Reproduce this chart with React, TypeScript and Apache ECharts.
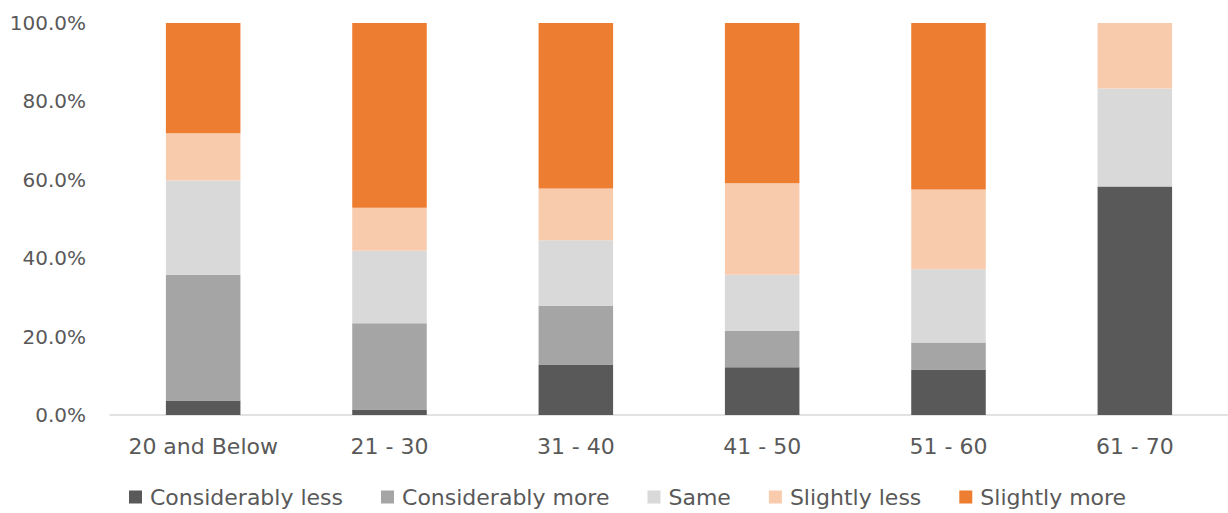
import React, { useEffect, useRef } from "react";
import * as echarts from "echarts";

// Age groups along the x axis
const categories = ["20 and Below", "21 - 30", "31 - 40", "41 - 50", "51 - 60", "61 - 70"];

// Share of respondents per answer, in percent, for each age group
const considerablyLess = [3.7, 1.4, 12.9, 12.2, 11.6, 58.3];
const considerablyMore = [32.1, 22.0, 15.0, 9.2, 6.9, 0];
const same = [24.0, 18.5, 16.7, 14.4, 18.7, 25.0];
const slightlyLess = [12.1, 11.0, 13.2, 23.3, 20.3, 16.7];
const slightlyMore = [28.1, 47.1, 42.2, 40.9, 42.5, 0];

const seriesDefs = [
  { name: "Considerably less", data: considerablyLess, color: "#595959" },
  { name: "Considerably more", data: considerablyMore, color: "#A5A5A5" },
  { name: "Same", data: same, color: "#D9D9D9" },
  { name: "Slightly less", data: slightlyLess, color: "#F8CBAD" },
  { name: "Slightly more", data: slightlyMore, color: "#ED7D31" },
];

const FONT = "'DejaVu Sans', sans-serif";
const TEXT = "#595959";

export default function App() {
  const ref = useRef<HTMLDivElement>(null);

  useEffect(() => {
    if (!ref.current) return;
    const chart = echarts.init(ref.current, undefined, { renderer: "svg" });
    chart.setOption({
      animation: false,
      textStyle: { fontFamily: FONT, color: TEXT },
      grid: { left: 110, right: 0, top: 23, bottom: 98, containLabel: false },
      legend: {
        top: 486,
        left: 129,
        padding: 0,
        itemWidth: 13,
        itemHeight: 13,
        itemGap: 38,
        icon: "rect",
        textStyle: { fontFamily: FONT, fontSize: 22, color: TEXT, padding: [0, 0, 0, 3] },
        data: seriesDefs.map((s) => s.name),
      },
      xAxis: {
        type: "category",
        data: categories,
        axisLine: { show: true, lineStyle: { color: "#D9D9D9", width: 1.5 } },
        axisTick: { show: false },
        axisLabel: { fontFamily: FONT, fontSize: 22, color: TEXT, margin: 20, interval: 0 },
      },
      yAxis: {
        type: "value",
        min: 0,
        max: 100,
        interval: 20,
        splitLine: { show: false },
        axisLine: { show: false },
        axisTick: { show: false },
        axisLabel: {
          fontFamily: FONT,
          fontSize: 20,
          color: TEXT,
          margin: 24,
          formatter: (v: number) => v.toFixed(1) + "%",
        },
      },
      series: seriesDefs.map((s) => ({
        name: s.name,
        type: "bar",
        stack: "total",
        barWidth: "40%",
        data: s.data,
        itemStyle: { color: s.color },
      })),
    });
    return () => chart.dispose();
  }, []);

  return (
    <div
      ref={ref}
      style={{ position: "fixed", left: 0, top: 0, width: 1228, height: 513, background: "#fff" }}
    />
  );
}
